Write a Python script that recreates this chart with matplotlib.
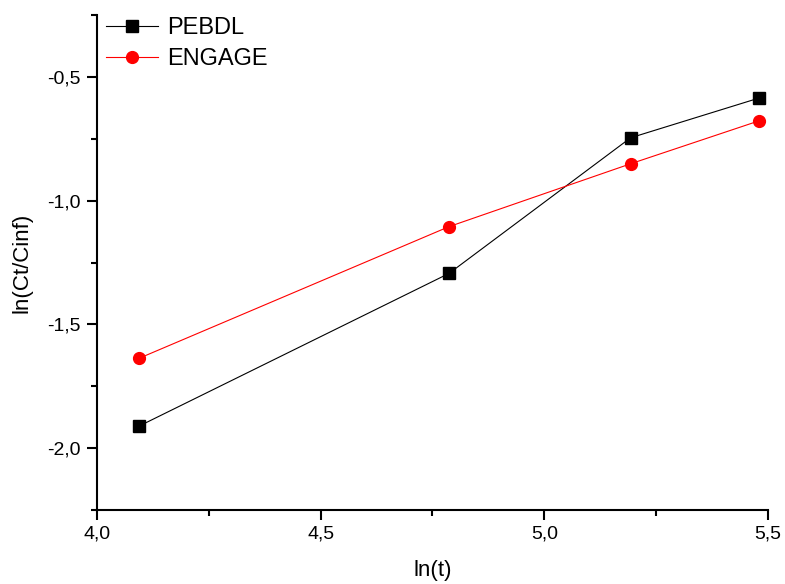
import matplotlib
matplotlib.use('Agg')
import matplotlib.pyplot as plt
from matplotlib.ticker import MultipleLocator, FuncFormatter

plt.rcParams['font.family'] = ['Liberation Sans', 'DejaVu Sans']

ln_t = [4.094, 4.787, 5.193, 5.481]
pebdl = [-1.911, -1.294, -0.746, -0.585]
engage = [-1.637, -1.105, -0.851, -0.677]

fig = plt.figure(figsize=(7.85, 5.84), dpi=100)
ax = fig.add_axes([0.1236, 0.1267, 0.8547, 0.8476])

ax.plot(ln_t, pebdl, color='black', lw=0.8, marker='s', markersize=8, label='PEBDL')
ax.plot(ln_t, engage, color='red', lw=0.8, marker='o', markersize=8.5, label='ENGAGE')

ax.set_xlim(4.0, 5.5)
ax.set_ylim(-2.25, -0.25)
ax.xaxis.set_major_locator(MultipleLocator(0.5))
ax.xaxis.set_minor_locator(MultipleLocator(0.25))
ax.yaxis.set_major_locator(MultipleLocator(0.5))
ax.yaxis.set_minor_locator(MultipleLocator(0.25))
comma = FuncFormatter(lambda v, p: f'{v:.1f}'.replace('.', ','))
ax.xaxis.set_major_formatter(comma)
ax.yaxis.set_major_formatter(comma)

for s in ['top', 'right']:
    ax.spines[s].set_visible(False)
for s in ['left', 'bottom']:
    ax.spines[s].set_linewidth(1.5)
ax.tick_params(which='major', direction='out', length=7.5, width=1.5, labelsize=14, pad=4)
ax.tick_params(which='minor', direction='out', length=4.5, width=1.5)

ax.set_xlabel('ln(t)', fontsize=16, labelpad=12)
ax.set_ylabel('ln(Ct/Cinf)', fontsize=16, labelpad=11)

ax.legend(loc='upper left', bbox_to_anchor=(0.0, 1.015), frameon=False, fontsize=17,
          handlelength=2.2, borderaxespad=0.0, handletextpad=0.35, labelspacing=0.4)

fig.savefig('out.png', dpi=100)
